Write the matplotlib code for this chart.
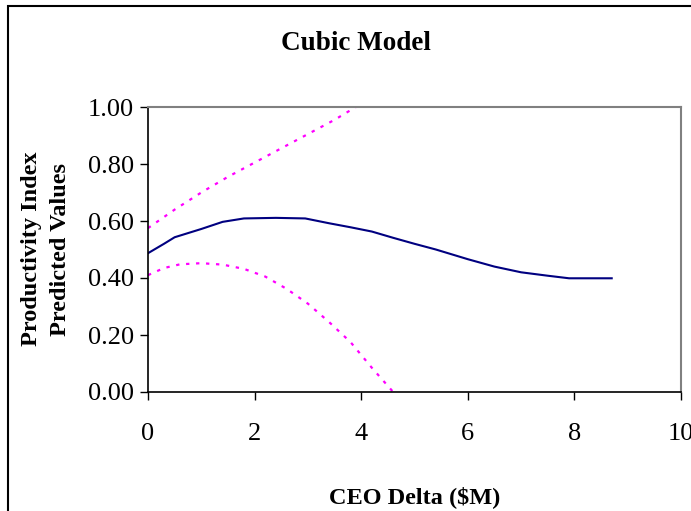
import matplotlib
matplotlib.use("Agg")
import matplotlib.pyplot as plt
from matplotlib.patches import Rectangle

# data
fit_x = [0, 0.3, 0.5, 1.0, 1.4, 1.8, 2.4, 2.95, 3.4, 3.8, 4.2, 4.6, 5.0, 5.4,
         6.0, 6.5, 7.0, 7.5, 7.9, 8.7]
fit_y = [0.487, 0.52, 0.543, 0.572, 0.597, 0.609, 0.611, 0.609, 0.592, 0.578,
         0.563, 0.541, 0.52, 0.50, 0.466, 0.44, 0.42, 0.408, 0.399, 0.399]

upper_x = [0, 0.5, 1.0, 1.5, 2.0, 2.5, 3.0, 3.5, 3.9]
upper_y = [0.575, 0.64, 0.70, 0.755, 0.805, 0.855, 0.905, 0.955, 1.0]

lower_x = [0, 0.3, 0.6, 1.0, 1.4, 1.8, 2.2, 2.6, 3.0, 3.4, 3.8, 4.2, 4.6]
lower_y = [0.41, 0.435, 0.448, 0.452, 0.447, 0.432, 0.405, 0.362, 0.31,
           0.245, 0.175, 0.085, 0.0]

x_ticks = [0, 2, 4, 6, 8, 10]
y_ticks = [0.0, 0.2, 0.4, 0.6, 0.8, 1.0]

plt.rcParams['font.family'] = ['Liberation Serif', 'DejaVu Serif']

fig = plt.figure(figsize=(6.91, 5.11), dpi=100)
ax = fig.add_axes([148 / 691, 1 - 392 / 511, (681 - 148) / 691, (392 - 107) / 511])

ax.plot(fit_x, fit_y, color='#000080', lw=1.5)
ax.plot(upper_x, upper_y, color='#FF00FF', lw=1.6, linestyle=(0, (1.5, 3)))
ax.plot(lower_x, lower_y, color='#FF00FF', lw=1.6, linestyle=(0, (1.5, 3)))

ax.set_xlim(0, 10)
ax.set_ylim(0, 1)
ax.set_xticks(x_ticks)
ax.set_yticks(y_ticks)
ax.set_yticklabels([f'{v:.2f}' for v in y_ticks])
ax.tick_params(direction='out', length=6, width=1, labelsize=19, pad=4)
ax.tick_params(axis='x', pad=16)

for side in ['top', 'right']:
    ax.spines[side].set_color('#808080')
    ax.spines[side].set_linewidth(1.5)
for side in ['left', 'bottom']:
    ax.spines[side].set_color('black')
    ax.spines[side].set_linewidth(1.2)

fig.text(356 / 691, 1 - 44 / 511, 'Cubic Model', ha='center', va='center',
         fontsize=19.5, fontweight='bold')
fig.text(415 / 691, 1 - 497 / 511, 'CEO Delta ($M)', ha='center', va='center',
         fontsize=17.5, fontweight='bold')
fig.text(46 / 691, 1 - 249 / 511, 'Productivity Index\nPredicted Values',
         ha='center', va='center', rotation=90, fontsize=17.5,
         fontweight='bold', linespacing=1.45)

# outer chart border (cut off on right and bottom)
fig.patches.append(Rectangle((8 / 691, -0.1), 1.2, 1.1 - 6 / 511,
                             transform=fig.transFigure, fill=False,
                             edgecolor='black', lw=1.5))

fig.savefig('out.png', dpi=100)
